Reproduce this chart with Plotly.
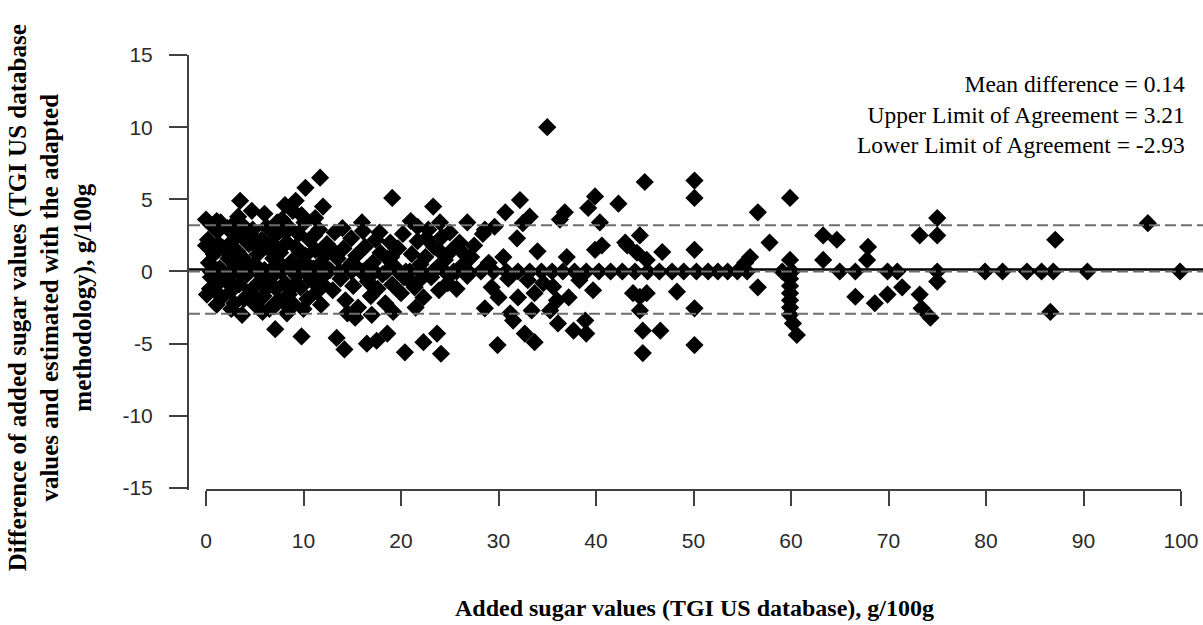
import plotly.graph_objects as go

# ---------------- data ----------------
# dense cluster, added sugar 0-12 g/100g
sugar_a = [0.2, 0.3, 0.5, 0.8, 1.0, 1.2, 1.4, 1.6, 1.8, 2.0, 2.2, 2.3, 2.5, 2.7, 2.9, 3.0, 3.2, 3.4,
           3.6, 3.7, 3.9, 4.0, 4.2, 4.4, 4.6, 4.8, 5.0, 5.2, 5.3, 5.5, 5.7, 5.9, 6.0, 6.2, 6.4, 6.5,
           6.7, 6.9, 7.1, 7.2, 7.4, 7.6, 7.8, 7.9, 8.1, 8.3, 8.5, 8.6, 8.8, 9.0, 9.2, 9.3, 9.5, 9.7,
           9.9, 10.1, 10.2, 10.4, 10.6, 10.8, 11.0, 11.2, 11.4, 11.6, 11.8, 12.0, 0.6, 1.5, 2.6, 0.1,
           1.1, 6.0, 8.9, 9.8, 3.3, 5.1, 7.0,
           0.4, 0.9, 1.3, 1.9, 2.4, 2.8, 3.1, 3.5, 4.3, 4.5, 5.1, 5.6, 6.3, 6.8, 7.5, 8.0, 8.4, 9.1,
           9.6, 10.0, 10.5, 11.1, 11.5, 12.2]
diff_a = [2.2, 0.6, -0.4, 1.2, -1.0, 2.8, 0.2, -1.8, 1.6, -0.6, 3.0, 0.9, -1.4, 2.1, -2.2, 0.3, 1.4, -0.9,
          3.3, 2.4, -1.9, 0.8, -0.2, 1.9, -1.3, 2.9, 0.5, -2.4, 1.2, -0.7, 2.2, -1.7, 0.1, 3.1, 1.6, -2.6,
          -0.4, 0.9, 2.5, -1.2, -2.0, 1.3, 3.6, 0.3, -0.8, 2.0, -1.6, 3.0, 0.7, -2.3, 1.7, -0.3, 2.6, -1.1,
          0.4, 3.4, 1.1, -1.9, 2.2, -0.6, 0.2, 1.5, -1.4, 2.9, 0.6, -0.9, 3.2, 3.4, -2.6, -1.6,
          -2.3, 4.0, 4.2, 3.9, 3.8, -1.9, -2.4,
          -1.2, 0.1, 1.9, -0.2, 1.6, -1.0, 2.7, 0.0, -1.8, 2.6, 1.8, -1.9, -1.1, 1.9, 0.6, 2.8, -2.4, -0.9,
          1.4, -2.6, 0.4, 2.5, -0.5, 1.1]

# cluster, added sugar 12-27 g/100g
sugar_b = [12.4, 12.7, 13.0, 13.2, 13.5, 13.8, 14.1, 14.3, 14.6, 14.9, 15.1, 15.4, 15.6, 15.9, 16.1, 16.3,
           16.6, 16.9, 17.1, 17.4, 17.6, 17.9, 18.1, 18.4, 18.6, 18.9, 19.1, 19.4, 19.7, 20.0, 20.2, 20.5,
           20.8, 21.1, 21.4, 21.7, 22.0, 22.3, 22.5, 22.8, 23.1, 23.4, 23.6, 23.9, 24.2, 24.5, 24.8, 25.1,
           25.4, 25.7, 26.0, 26.4, 26.8, 27.2, 27.5, 28.4, 26.5,
           13.1, 14.0, 15.0, 16.5, 17.8, 19.0, 20.3, 21.9, 22.6, 24.0]
diff_b = [1.9, 0.1, -1.3, 2.7, 0.9, -0.5, 1.6, -2.0, 0.3, 2.3, -1.0, 1.1, -2.5, 0.0, 2.8, 1.7,
          -0.7, -1.7, 0.6, 2.2, -1.2, 1.3, -0.2, -2.2, 0.9, 2.0, -0.9, 0.3, 1.6, -1.5, 2.6, 0.0,
          -0.6, 1.2, -1.1, 2.1, 0.5, -1.8, 1.0, 2.9, -0.4, 1.7, 0.2, -1.3, 2.4, 0.8, -0.8, 1.4,
          0.0, -1.2, 2.0, 0.5, -0.3, 1.0, 1.8, 2.6, 1.2,
          1.4, 3.0, 0.6, 0.2, 2.7, 1.0, -0.4, -0.6, 2.3, 1.4]

# scattered points, added sugar 0-27 g/100g
sugar_c = [0.0, 1.1, 2.7, 3.5, 4.7, 4.1, 7.3, 8.1, 9.2, 10.2, 11.7, 12.0, 11.2, 16.0, 19.1, 21.0, 23.3,
           21.7, 24.0, 25.0, 26.8, 0.0, 3.7, 7.1, 9.8, 13.4, 14.2, 16.5, 17.5, 18.6, 20.4, 22.3, 23.7,
           24.1, 15.3, 11.8, 19.2, 14.5, 17.0, 21.5, 8.3, 5.8]
diff_c = [3.6, 3.5, 3.2, 4.9, 4.2, 2.9, 3.4, 4.6, 4.9, 5.8, 6.5, 4.5, 3.7, 3.4, 5.1, 3.5, 4.5,
          3.1, 3.4, 2.7, 3.4, 1.8, -3.0, -4.0, -4.5, -4.6, -5.4, -5.0, -4.8, -4.3, -5.6, -4.9, -4.3,
          -5.7, -3.2, -2.3, -2.8, -2.9, -3.0, -2.5, -2.9, -2.8]

# points with (almost) no difference
sugar_zero = [0.5, 1.7, 2.9, 4.1, 5.3, 6.5, 7.7, 8.9, 10.1, 11.3, 12.5, 13.7, 14.9, 16.1, 17.3, 18.5,
              19.7, 20.9, 22.1, 23.3, 24.5, 25.7, 26.9, 28.2, 29.5, 30.8, 32.0, 33.2, 34.4, 35.5, 36.6,
              37.8, 39.0, 40.3, 41.5, 42.7, 44.0, 45.3, 46.5, 47.8, 49.0, 50.3, 51.5, 52.5, 53.5, 54.5,
              55.5, 59.1, 60.1, 65.0, 66.6, 69.9, 70.9, 75.0, 79.9, 81.7, 84.2, 85.7, 86.9, 90.4, 99.9]
diff_zero = [0.0] * len(sugar_zero)

# points, added sugar above 27 g/100g
sugar_d = [35.0, 45.0, 50.1, 50.1, 32.2, 30.7, 33.2, 36.8, 36.3, 39.9, 39.2, 40.4, 42.3, 28.6, 29.6,
           31.9, 32.5, 40.6, 39.9, 44.5, 43.2, 44.2, 45.2, 46.8, 50.1, 43.0, 30.5, 34.0, 37.0, 29.0,
           28.6, 29.9, 29.3, 31.2, 31.5, 33.4, 32.7, 33.7, 33.7, 34.6, 35.6, 36.0, 36.1, 35.3, 37.7,
           39.0, 38.9, 39.7, 38.3, 43.8, 44.5, 45.2, 44.5, 44.8, 46.6, 44.8, 48.3, 50.1, 50.1, 30.0,
           32.0, 37.2, 31.0, 33.0,
           56.6, 59.9, 55.8, 55.3, 57.8, 56.6, 59.9, 59.9, 59.9, 59.9, 59.9, 59.9, 59.9, 60.2, 60.6,
           63.3, 64.7, 63.3, 66.6, 67.9, 67.8, 68.6, 69.9, 71.4, 73.2, 75.0, 75.0, 75.0, 73.2, 73.4,
           74.3, 87.1, 86.6, 96.6]
diff_d = [10.0, 6.2, 6.3, 5.1, 4.95, 4.1, 3.8, 4.1, 3.6, 5.2, 4.4, 3.4, 4.7, 2.9, 3.1,
          2.3, 3.35, 1.8, 1.5, 2.5, 1.8, 1.3, 0.8, 1.35, 1.5, 2.0, 1.0, 1.4, 1.0, 0.6,
          -2.55, -5.1, -1.1, -2.9, -3.4, -2.7, -4.3, -4.9, -1.5, -0.8, -1.05, -2.0, -3.6, -2.7, -4.1,
          -4.3, -3.4, -1.3, -0.6, -1.5, -1.75, -1.5, -2.7, -4.1, -4.1, -5.65, -1.4, -2.55, -5.1, -1.8,
          -1.8, -1.8, -0.5, -0.6,
          4.1, 5.1, 1.0, 0.6, 2.0, -1.1, 0.8, -0.5, -1.0, -1.5, -2.0, -2.5, -3.0, -3.6, -4.4,
          2.5, 2.2, 0.8, -1.75, 1.7, 0.8, -2.2, -1.6, -1.1, 2.5, 3.7, 2.5, -0.7, -1.6, -2.55,
          -3.2, 2.2, -2.8, 3.35]

mean_difference = 0.14
upper_loa = 3.21
lower_loa = -2.93

x_ticks = [0, 10, 20, 30, 40, 50, 60, 70, 80, 90, 100]
y_ticks = [-15, -10, -5, 0, 5, 10, 15]

annotation_lines = ["Mean difference = 0.14",
                    "Upper Limit of Agreement = 3.21",
                    "Lower Limit of Agreement = -2.93"]
x_title = "Added sugar values (TGI US database), g/100g"
y_title_lines = ["Difference of added sugar values (TGI US database",
                 "values and estimated with the adapted",
                 "methodology), g/100g"]

# ---------------- figure ----------------
X_RANGE = [-1.7436, 102.256]
Y_RANGE = [-15.14, 15.0]

all_x = sugar_a + sugar_b + sugar_c + sugar_zero + sugar_d
all_y = diff_a + diff_b + diff_c + diff_zero + diff_d

fig = go.Figure()
fig.add_trace(go.Scatter(
    x=all_x, y=all_y, mode="markers",
    marker=dict(symbol="diamond", size=14, color="black", line=dict(width=0)),
    showlegend=False, hoverinfo="x+y"))

# mean line (solid) and reference dashed lines
fig.add_trace(go.Scatter(x=X_RANGE, y=[mean_difference, mean_difference], mode="lines",
                         line=dict(color="black", width=2.5), showlegend=False, hoverinfo="skip"))
for val in (0.0, upper_loa, lower_loa):
    fig.add_trace(go.Scatter(x=X_RANGE, y=[val, val], mode="lines",
                             line=dict(color="#6e6e6e", width=2, dash="11px,5px"),
                             showlegend=False, hoverinfo="skip"))

tick_font = dict(family="Liberation Sans, Arial, sans-serif", size=21, color="#2a2a2a")
axis_col = "#404040"

fig.update_xaxes(range=X_RANGE, showgrid=False, zeroline=False, showline=False,
                 tickmode="array", tickvals=x_ticks, ticktext=[str(v) for v in x_ticks],
                 ticks="outside", ticklen=15, tickwidth=2, tickcolor=axis_col,
                 tickfont=tick_font, ticklabelstandoff=17)
fig.update_yaxes(range=Y_RANGE, showgrid=False, zeroline=False, showline=True,
                 linecolor=axis_col, linewidth=2,
                 tickmode="array", tickvals=y_ticks, ticktext=[str(v) for v in y_ticks],
                 ticks="outside", ticklen=18, tickwidth=2, tickcolor=axis_col,
                 tickfont=tick_font, ticklabelstandoff=12)

# x axis line (offset from the y axis, spans 0..100)
fig.add_shape(type="line", xref="x", yref="paper", x0=x_ticks[0], x1=x_ticks[-1], y0=0, y1=0,
              line=dict(color=axis_col, width=2), layer="above")

serif = "Liberation Serif, Times New Roman, serif"
fig.add_annotation(xref="paper", yref="paper", x=0.984, y=0.864, xanchor="right", yanchor="middle",
                   align="right", showarrow=False, text="<br>".join(annotation_lines),
                   font=dict(family=serif, size=23.5, color="black"))
fig.add_annotation(xref="paper", yref="paper", x=0.499, y=-0.271, xanchor="center", yanchor="middle",
                   showarrow=False, text="<b>" + x_title + "</b>",
                   font=dict(family=serif, size=24, color="black"))
fig.add_annotation(xref="paper", yref="paper", x=-0.137, y=0.441, xanchor="center", yanchor="middle",
                   showarrow=False, textangle=-90, text="<b>" + "<br>".join(y_title_lines) + "</b>",
                   font=dict(family=serif, size=25, color="black"))

fig.update_layout(width=1203, height=625, margin=dict(l=189, r=0, t=55, b=135),
                  plot_bgcolor="white", paper_bgcolor="white")

# remove the default page margin so the 1203x625 figure fills the window exactly
fig.write_html("out.html", config={"displayModeBar": False},
               post_script="document.body.style.margin='0';document.body.style.overflow='hidden';")
